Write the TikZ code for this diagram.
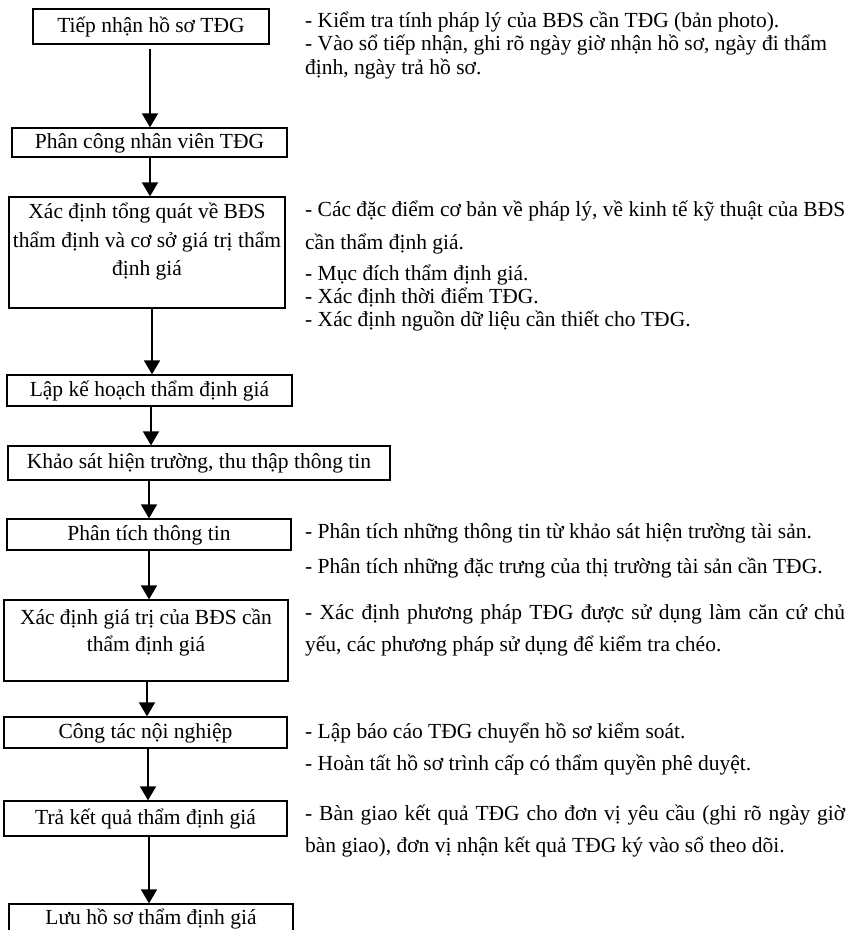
\documentclass[tikz,border=0pt]{standalone}
\usepackage{fontspec}
\setmainfont{Liberation Serif}
\usetikzlibrary{arrows.meta}
\begin{document}
\begin{tikzpicture}[x=1pt,y=-1pt,
 box/.style={draw, line width=1.3pt, inner xsep=3pt, inner ysep=1pt, text height=15pt, text depth=4pt, font=\fontsize{21.5}{27}\selectfont},
 tallbox/.style={draw, line width=1.3pt, inner xsep=3pt, font=\fontsize{21.5}{28.5}\selectfont},
 arr/.style={line width=1.8pt, -{Triangle[width=16pt,length=14pt]}},
 note/.style={anchor=base west, inner sep=0pt, font=\fontsize{21.5}{25}\selectfont}]
\useasboundingbox (0,0) rectangle (857,930);
% boxes
\node[box, minimum width=236pt, minimum height=35pt] (b1) at (151,26.5) {Tiếp nhận hồ sơ TĐG};
\node[box, minimum width=275pt, minimum height=29pt] (b2) at (149.5,142.5) {Phân công nhân viên TĐG};
\node[tallbox, minimum width=276pt, minimum height=111pt, inner ysep=6pt] (b3) at (147,252.5)
  {\parbox[c][99pt][t]{270pt}{\centering Xác định tổng quát về BĐS\\ thẩm định và cơ sở giá trị thẩm\\ định giá}};
\node[box, minimum width=285pt, minimum height=31pt] (b4) at (149.5,390.5) {Lập kế hoạch thẩm định giá};
\node[box, minimum width=382pt, minimum height=34pt] (b5) at (199,463) {Khảo sát hiện trường, thu thập thông tin};
\node[box, minimum width=284pt, minimum height=31pt] (b6) at (149,534.5) {Phân tích thông tin};
\node[tallbox, minimum width=284pt, minimum height=81pt, inner ysep=9pt] (b7) at (146,640.5)
  {\parbox[c][63pt][t]{270pt}{\centering\fontsize{21.5}{27}\selectfont Xác định giá trị của BĐS cần\\ thẩm định giá}};
\node[box, minimum width=283pt, minimum height=31pt] (b8) at (145.5,732.5) {Công tác nội nghiệp};
\node[box, minimum width=283pt, minimum height=35pt] (b9) at (145.5,818.5) {Trả kết quả thẩm định giá};
\node[box, minimum width=284pt, minimum height=30pt] (b10) at (151,919) {Lưu hồ sơ thẩm định giá};
% arrows
\draw[arr, shorten <=4pt] ([xshift=-1pt]b1.south) -- ([xshift=0.5pt]b2.north);
\draw[arr] ([xshift=0.5pt]b2.south) -- ([xshift=3pt]b3.north);
\draw[arr] ([xshift=5pt]b3.south) -- ([xshift=2.5pt]b4.north);
\draw[arr] ([xshift=1.5pt]b4.south) -- ([xshift=-48pt]b5.north);
\draw[arr] ([xshift=-50pt]b5.south) -- (b6.north);
\draw[arr] (b6.south) -- ([xshift=3pt]b7.north);
\draw[arr] ([xshift=1pt]b7.south) -- ([xshift=1.5pt]b8.north);
\draw[arr] ([xshift=2.5pt]b8.south) -- ([xshift=2.5pt]b9.north);
\draw[arr] ([xshift=3.5pt]b9.south) -- ([xshift=-2pt]b10.north);
% notes
\node[note] (n1) at (305,27) {- Kiểm tra tính pháp lý của BĐS cần TĐG (bản photo).};
\node[note] (n2) at (305,50) {- Vào sổ tiếp nhận, ghi rõ ngày giờ nhận hồ sơ, ngày đi thẩm};
\node[note] (n3) at (305,74) {định, ngày trả hồ sơ.};
\node[note] (n4) at (305,216) {\makebox[540pt][s]{- Các đặc điểm cơ bản về pháp lý, về kinh tế kỹ thuật của BĐS}};
\node[note] (n5) at (305,249) {cần thẩm định giá.};
\node[note] (n6) at (305,280) {- Mục đích thẩm định giá.};
\node[note] (n7) at (305,303) {- Xác định thời điểm TĐG.};
\node[note] (n8) at (305,326) {- Xác định nguồn dữ liệu cần thiết cho TĐG.};
\node[note] (n9) at (305,538) {- Phân tích những thông tin từ khảo sát hiện trường tài sản.};
\node[note] (n10) at (305,573) {- Phân tích những đặc trưng của thị trường tài sản cần TĐG.};
\node[note] (n11) at (305,619) {\makebox[540pt][s]{- Xác định phương pháp TĐG được sử dụng làm căn cứ chủ}};
\node[note] (n12) at (305,651) {yếu, các phương pháp sử dụng để kiểm tra chéo.};
\node[note] (n13) at (305,738) {- Lập báo cáo TĐG chuyển hồ sơ kiểm soát.};
\node[note] (n14) at (305,770) {- Hoàn tất hồ sơ trình cấp có thẩm quyền phê duyệt.};
\node[note] (n15) at (305,820) {\makebox[540pt][s]{- Bàn giao kết quả TĐG cho đơn vị yêu cầu (ghi rõ ngày giờ}};
\node[note] (n16) at (305,852) {bàn giao), đơn vị nhận kết quả TĐG ký vào sổ theo dõi.};
\end{tikzpicture}
\end{document}
